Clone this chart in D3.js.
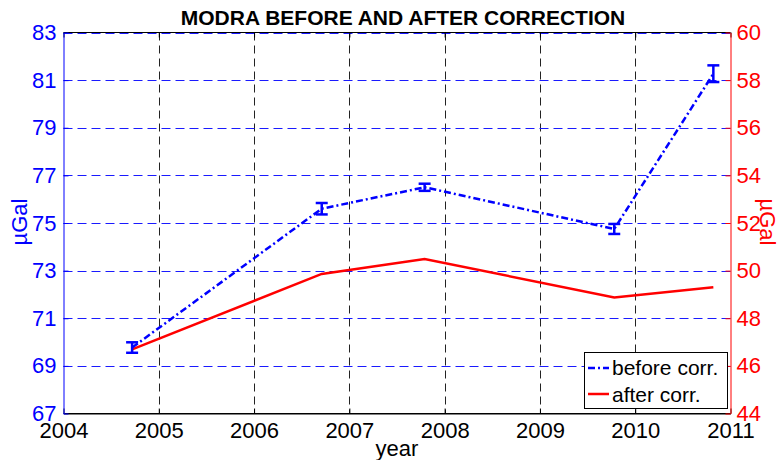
<!DOCTYPE html>
<html>
<head>
<meta charset="utf-8">
<script src="https://cdn.jsdelivr.net/npm/d3@7"></script>
<style>
  body { margin: 0; background: #fff; }
  svg { display: block; font-family: "Liberation Sans", Arial, Helvetica, sans-serif; }
</style>
</head>
<body>
<div id="chart"></div>
<script>
// values
var years = [2004.72, 2006.71, 2007.79, 2009.78, 2010.82];
var beforeVals = [69.77, 75.6, 76.5, 74.75, 81.27];
var beforeErr = [0.22, 0.24, 0.15, 0.21, 0.35];
var afterVals = [46.69, 49.86, 50.49, 48.87, 49.3];
var xTicks = [2004, 2005, 2006, 2007, 2008, 2009, 2010, 2011];
var leftTicks = [67, 69, 71, 73, 75, 77, 79, 81, 83];
var rightTicks = [44, 46, 48, 50, 52, 54, 56, 58, 60];

var W = 777, H = 460;
var m = { left: 63.5, right: 730.5, top: 32.5, bottom: 413.5 };

var svg = d3.select("#chart").append("svg").attr("width", W).attr("height", H);

var x = d3.scaleLinear().domain([2004, 2011]).range([m.left, m.right]);
var yL = d3.scaleLinear().domain([67, 83]).range([m.bottom, m.top]);
var yR = d3.scaleLinear().domain([44, 60]).range([m.bottom, m.top]);

// grid
svg.append("g").selectAll("line").data(xTicks.slice(1, -1)).enter().append("line")
  .attr("x1", function(d) { return Math.round(x(d)) + 0.5; })
  .attr("x2", function(d) { return Math.round(x(d)) + 0.5; })
  .attr("y1", m.top).attr("y2", m.bottom)
  .attr("stroke", "#222").attr("stroke-width", 1).attr("stroke-dasharray", "8,5");
svg.append("g").selectAll("line").data(leftTicks.slice(1)).enter().append("line")
  .attr("x1", m.left).attr("x2", m.right)
  .attr("y1", function(d) { return Math.round(yL(d)) + 0.5; })
  .attr("y2", function(d) { return Math.round(yL(d)) + 0.5; })
  .attr("stroke", "#1a1aff").attr("stroke-width", 1).attr("stroke-dasharray", "9,5");

// frame
svg.append("line").attr("x1", m.left).attr("x2", m.right).attr("y1", m.top).attr("y2", m.top).attr("stroke", "#000");
svg.append("line").attr("x1", m.left).attr("x2", m.right).attr("y1", m.bottom).attr("y2", m.bottom).attr("stroke", "#000");

// axes
var xAxis = d3.axisBottom(x).tickValues(xTicks).tickFormat(d3.format("d")).tickSizeInner(-5).tickSizeOuter(0).tickPadding(9);
var gx = svg.append("g").attr("transform", "translate(0," + m.bottom + ")").call(xAxis);
gx.select(".domain").attr("stroke", "#000");
gx.selectAll("text").attr("font-size", 22).attr("fill", "#000").attr("dy", "0.71em");

var gxt = svg.append("g").attr("transform", "translate(0," + m.top + ")")
  .call(d3.axisTop(x).tickValues(xTicks).tickSizeInner(-5).tickSizeOuter(0).tickFormat(""));
gxt.select(".domain").remove();

var gl = svg.append("g").attr("transform", "translate(" + m.left + ",0)")
  .call(d3.axisLeft(yL).tickValues(leftTicks).tickSizeInner(-5).tickSizeOuter(0).tickPadding(7));
gl.select(".domain").attr("stroke", "#0000ff");
gl.selectAll("line").attr("stroke", "#0000ff");
gl.selectAll("text").attr("font-size", 22).attr("fill", "#0000ff");

var gr = svg.append("g").attr("transform", "translate(" + m.right + ",0)")
  .call(d3.axisRight(yR).tickValues(rightTicks).tickSizeInner(-5).tickSizeOuter(0).tickPadding(6));
gr.select(".domain").attr("stroke", "#ff0000");
gr.selectAll("line").attr("stroke", "#ff0000");
gr.selectAll("text").attr("font-size", 22).attr("fill", "#ff0000");

// after correction line
var pts = years.map(function(d, i) { return { x: d, b: beforeVals[i], e: beforeErr[i], a: afterVals[i] }; });
svg.append("path").datum(pts)
  .attr("d", d3.line().x(function(d) { return x(d.x); }).y(function(d) { return yR(d.a); }))
  .attr("fill", "none").attr("stroke", "#ff0000").attr("stroke-width", 2.5);

// before correction line with error bars
svg.append("path").datum(pts)
  .attr("d", d3.line().x(function(d) { return x(d.x); }).y(function(d) { return yL(d.b); }))
  .attr("fill", "none").attr("stroke", "#0000ff").attr("stroke-width", 2.5)
  .attr("stroke-dasharray", "7,3,2,3");

var eb = svg.append("g").attr("stroke", "#0000ff").attr("stroke-width", 2.5);
pts.forEach(function(d) {
  var cx = x(d.x);
  eb.append("line").attr("x1", cx).attr("x2", cx).attr("y1", yL(d.b - d.e)).attr("y2", yL(d.b + d.e));
  eb.append("line").attr("x1", cx - 6).attr("x2", cx + 6).attr("y1", yL(d.b - d.e)).attr("y2", yL(d.b - d.e));
  eb.append("line").attr("x1", cx - 6).attr("x2", cx + 6).attr("y1", yL(d.b + d.e)).attr("y2", yL(d.b + d.e));
});

// title and labels
svg.append("text").attr("x", 403).attr("y", 25).attr("text-anchor", "middle")
  .attr("font-size", 21).attr("font-weight", "bold").attr("fill", "#000")
  .text("MODRA BEFORE AND AFTER CORRECTION");
svg.append("text").attr("x", 397).attr("y", 456).attr("text-anchor", "middle")
  .attr("font-size", 22).attr("fill", "#000").text("year");
svg.append("text").attr("transform", "translate(27,222) rotate(-90)").attr("text-anchor", "middle")
  .attr("font-size", 22).attr("fill", "#0000ff").text("µGal");
svg.append("text").attr("transform", "translate(760,222) rotate(90)").attr("text-anchor", "middle")
  .attr("font-size", 22).attr("fill", "#ff0000").text("µGal");

// legend
var lg = svg.append("g");
lg.append("rect").attr("x", 584.5).attr("y", 352.5).attr("width", 143).attr("height", 56)
  .attr("fill", "#fff").attr("stroke", "#000").attr("stroke-width", 1);
lg.append("line").attr("x1", 588).attr("x2", 609).attr("y1", 368).attr("y2", 368)
  .attr("stroke", "#0000ff").attr("stroke-width", 2.5).attr("stroke-dasharray", "7,3,2,3");
lg.append("line").attr("x1", 588).attr("x2", 609).attr("y1", 394).attr("y2", 394)
  .attr("stroke", "#ff0000").attr("stroke-width", 2.5);
lg.append("text").attr("x", 612).attr("y", 375).attr("font-size", 21).attr("fill", "#000").text("before corr.");
lg.append("text").attr("x", 612).attr("y", 402).attr("font-size", 21).attr("fill", "#000").text("after corr.");
</script>
</body>
</html>
